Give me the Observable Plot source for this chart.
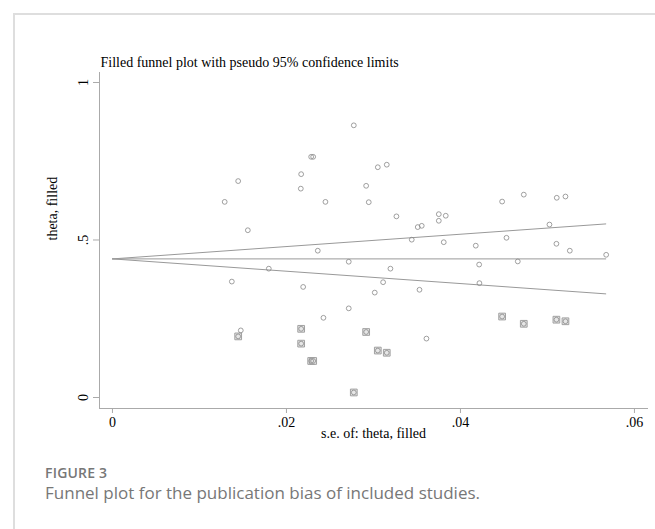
<!DOCTYPE html>
<html>
<head>
<meta charset="utf-8">
<script src="https://cdn.jsdelivr.net/npm/d3@7"></script>
<script src="https://cdn.jsdelivr.net/npm/@observablehq/plot@0.6"></script>
<style>
  html, body { margin: 0; padding: 0; background: #fff; }
  #wrap { position: relative; width: 655px; height: 529px; overflow: hidden; background: #fff; }
  #frameTop { position: absolute; left: 13px; top: 13px; width: 642px; height: 2px; background: #dedede; }
  #frameLeft { position: absolute; left: 13px; top: 13px; width: 2px; height: 516px; background: #dedede; }
  #chart { position: absolute; left: 0; top: 0; }
  #figlabel { position: absolute; left: 45px; top: 465px; font-family: "Open Sans", sans-serif; font-weight: 600; font-size: 14px; line-height: 16px; color: #777; letter-spacing: 0.2px; }
  #figcap { position: absolute; left: 45px; top: 483px; font-family: "Open Sans", sans-serif; font-size: 17px; line-height: 20px; color: #777; }
</style>
</head>
<body>
<div id="wrap">
  <div id="frameTop"></div>
  <div id="frameLeft"></div>
  <div id="chart"></div>
  <div id="figlabel">FIGURE 3</div>
  <div id="figcap">Funnel plot for the publication bias of included studies.</div>
</div>
<script>
// Observed studies (s.e., theta)
const seObserved = [0.01445, 0.0129, 0.01556, 0.01797, 0.02774, 0.02284, 0.02307, 0.02169, 0.02165, 0.0305,
  0.03153, 0.02916, 0.02448, 0.02946, 0.03264, 0.03751, 0.03831, 0.03751, 0.03509, 0.03555,
  0.0344, 0.03808, 0.04176, 0.0236, 0.02716, 0.03195, 0.04215, 0.04479, 0.04728, 0.05107,
  0.05207, 0.05023, 0.04529, 0.05103, 0.05257, 0.05675, 0.04659, 0.01372, 0.01475, 0.02192,
  0.03111, 0.03015, 0.03529, 0.04218, 0.02716, 0.02425, 0.03609];
const thetaObserved = [0.687, 0.621, 0.531, 0.409, 0.864, 0.764, 0.764, 0.709, 0.663, 0.731,
  0.739, 0.672, 0.621, 0.620, 0.575, 0.582, 0.577, 0.561, 0.541, 0.545,
  0.501, 0.493, 0.482, 0.466, 0.431, 0.409, 0.422, 0.622, 0.644, 0.634,
  0.638, 0.549, 0.507, 0.488, 0.466, 0.453, 0.432, 0.368, 0.213, 0.351,
  0.366, 0.333, 0.342, 0.363, 0.283, 0.253, 0.187];
// Filled (imputed) studies
const seFilled = [0.01445, 0.02774, 0.02284, 0.02307, 0.02169, 0.02169, 0.0305, 0.03153, 0.02916, 0.04479, 0.04728, 0.05103, 0.05207];
const thetaFilled = [0.194, 0.016, 0.116, 0.116, 0.171, 0.218, 0.149, 0.142, 0.208, 0.257, 0.234, 0.247, 0.242];
// Pooled estimate and pseudo 95% limits
const pooledTheta = 0.44;
const seMax = 0.0567;
const upperAtMax = 0.551;
const lowerAtMax = 0.329;
// Axis ticks
const xTicks = [0, 0.02, 0.04, 0.06];
const xTickLabels = ["0", ".02", ".04", ".06"];
const yTicks = [0, 0.5, 1];
const yTickLabels = ["0", ".5", "1"];

const observed = seObserved.map((s, i) => ({se: s, theta: thetaObserved[i]}));
const filled = seFilled.map((s, i) => ({se: s, theta: thetaFilled[i]}));
const allPts = observed.concat(filled);
const pooledLine = [{se: 0, theta: pooledTheta}, {se: seMax, theta: pooledTheta}];
const upperLine = [{se: 0, theta: pooledTheta}, {se: seMax, theta: upperAtMax}];
const lowerLine = [{se: 0, theta: pooledTheta}, {se: seMax, theta: lowerAtMax}];

const serif = "'Liberation Serif', 'Times New Roman', serif";
const axisGrey = "#aaa";

const chart = Plot.plot({
  width: 655,
  height: 455,
  marginLeft: 99,
  marginRight: 8,
  marginTop: 72,
  marginBottom: 47,
  style: {fontFamily: serif, fontSize: "14px", color: "#000", background: "transparent"},
  x: {domain: [-0.00149, 0.0615]},
  y: {domain: [-0.0349, 1.0317]},
  marks: [
    Plot.frame({anchor: "left", stroke: axisGrey}),
    Plot.frame({anchor: "bottom", stroke: axisGrey}),
    Plot.axisX({ticks: xTicks, tickFormat: (d) => xTickLabels[xTicks.indexOf(d)], tickSize: 5, tickPadding: 4, stroke: axisGrey, fill: "#000", fontSize: 14, label: null}),
    Plot.axisY({ticks: yTicks, tickFormat: () => "", tickSize: 6, stroke: axisGrey, label: null}),
    Plot.text(yTicks, {y: (d) => d, text: (d, i) => yTickLabels[i], frameAnchor: "left", dx: -16, rotate: -90, textAnchor: "middle", fontSize: 14, fill: "#000"}),
    Plot.text(["s.e. of: theta, filled"], {frameAnchor: "bottom", dy: 29, fontSize: 14, fill: "#000"}),
    Plot.text(["theta, filled"], {frameAnchor: "left", dx: -47, rotate: -90, fontSize: 14, fill: "#000"}),
    Plot.text(["Filled funnel plot with pseudo 95% confidence limits"], {frameAnchor: "top-left", dx: 1, dy: -15, textAnchor: "start", fontSize: 14, fill: "#000"}),
    Plot.line(pooledLine, {x: "se", y: "theta", stroke: "#999", strokeWidth: 1}),
    Plot.line(upperLine, {x: "se", y: "theta", stroke: "#999", strokeWidth: 1}),
    Plot.line(lowerLine, {x: "se", y: "theta", stroke: "#999", strokeWidth: 1}),
    Plot.dot(filled, {x: "se", y: "theta", symbol: "square", r: 3.8, stroke: "#999", fill: "#e6e6e6", strokeWidth: 0.9}),
    Plot.dot(allPts, {x: "se", y: "theta", r: 2.4, stroke: "#888", fill: "none", strokeWidth: 0.8})
  ]
});
document.getElementById("chart").appendChild(chart);
</script>
</body>
</html>
